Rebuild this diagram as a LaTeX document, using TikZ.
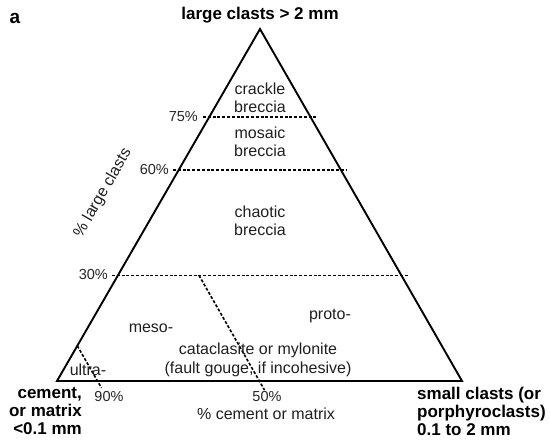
\documentclass[tikz,border=0pt]{standalone}
\usepackage{fontspec}
\setmainfont{Liberation Sans}
\begin{document}
\begin{tikzpicture}[x=1pt,y=-1pt,
  edge/.style={line width=1.9pt, line join=miter},
  dline/.style={line width=1.6pt, dash pattern=on 3pt off 1.8pt},
  lbl/.style={font=\fontsize{16}{18.5}\selectfont, text=black!88, inner sep=0pt, align=center},
  blbl/.style={font=\fontsize{17}{18}\selectfont\bfseries, inner sep=0pt},
  pct/.style={font=\fontsize{14.5}{16}\selectfont, text=black!85, inner sep=0pt}]
\useasboundingbox (0,0) rectangle (550,441);
% triangle
\coordinate (A) at (260,29);
\coordinate (L) at (57,381);
\coordinate (R) at (462,381);
\draw[edge] (L) -- (A) -- (R) -- cycle;
% dashed lines
\coordinate (d75a) at (203,117);   \coordinate (d75b) at (317,117);
\coordinate (d60a) at (173,170.2); \coordinate (d60b) at (347,170.2);
\coordinate (d30a) at (112,275.4); \coordinate (d30b) at (408,275.4);
\coordinate (m50a) at (199,275.4); \coordinate (m50b) at (264.5,390);
\coordinate (u90a) at (77.3,345.8); \coordinate (u90b) at (101.5,388);
\draw[dline] (d75a) -- (d75b);
\draw[dline] (d60a) -- (d60b);
\draw[dline] (d30a) -- (d30b);
\draw[dline] (m50a) -- (m50b);
\draw[dline] (u90a) -- (u90b);
% percent labels
\node[pct, anchor=east] (p75) at (198,117) {75\%};
\node[pct, anchor=east] (p60) at (169,170) {60\%};
\node[pct, anchor=east] (p30) at (108,275) {30\%};
\node[pct] (p90) at (109,397) {90\%};
\node[pct] (p50) at (267,397) {50\%};
\node[lbl, rotate=60] (lc) at (103,193) {\% large clasts};
\node[lbl] (cm) at (266,414) {\% cement or matrix};
% field labels
\node[lbl] (crackle) at (260,98) {crackle\\breccia};
\node[lbl] (mosaic) at (260,142) {mosaic\\breccia};
\node[lbl] (chaotic) at (260,221) {chaotic\\breccia};
\node[lbl] (meso) at (151,328) {meso-};
\node[lbl] (proto) at (330,316) {proto-};
\node[lbl] (cata) at (258,360) {cataclasite or mylonite\\(fault gouge, if incohesive)};
\node[lbl] (ultra) at (88,370) {ultra-};
% corner labels
\node[blbl, font=\fontsize{19}{20}\selectfont\bfseries] (a) at (15,18) {a};
\node[blbl] (top) at (260,15) {large clasts > 2 mm};
\node[blbl, align=right, anchor=north east] (bl) at (82,387) {cement,\\or matrix\\<0.1 mm};
\node[blbl, align=left, anchor=north west] (br) at (417,387) {small clasts (or\\porphyroclasts)\\0.1 to 2 mm};
\end{tikzpicture}
\end{document}
